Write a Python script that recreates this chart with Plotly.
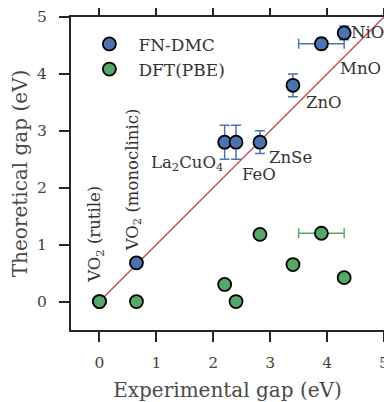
import plotly.graph_objects as go

materials = ["VO2 (rutile)", "VO2 (monoclinic)", "La2CuO4", "FeO", "ZnSe", "ZnO", "MnO", "NiO"]
exp_gap = [0.0, 0.65, 2.2, 2.4, 2.82, 3.4, 3.9, 4.3]
exp_err = [0.0, 0.0, 0.0, 0.0, 0.0, 0.0, 0.4, 0.0]
dmc_gap = [0.0, 0.68, 2.8, 2.8, 2.8, 3.8, 4.53, 4.72]
dmc_err = [0.0, 0.0, 0.3, 0.3, 0.2, 0.2, 0.1, 0.12]
dft_gap = [0.0, 0.0, 0.3, 0.0, 1.18, 0.65, 1.2, 0.42]

labels = ["VO<sub>2</sub> (rutile)", "VO<sub>2</sub> (monoclinic)", "La<sub>2</sub>CuO<sub>4</sub>",
          "FeO", "ZnSe", "ZnO", "MnO", "NiO"]
label_x = [-0.07, 0.6, 2.21, 2.47, 2.95, 3.6, 4.2, 4.38]
label_y = [1.18, 2.14, 2.42, 2.23, 2.54, 3.49, 4.1, 4.72]
label_anchor = ["center", "center", "right", "left", "left", "left", "left", "left"]
label_angle = [-90, -90, 0, 0, 0, 0, 0, 0]

BLUE = "#4c72b0"
GREEN = "#55a868"
RED = "#c44e52"
FONT = "DejaVu Serif"

fig = go.Figure()
fig.add_trace(go.Scatter(x=[0, 5], y=[0, 5], mode="lines", line=dict(color=RED, width=1.4),
                         showlegend=False, hoverinfo="skip"))
fig.add_trace(go.Scatter(
    x=exp_gap, y=dmc_gap, mode="markers", name="FN-DMC",
    marker=dict(color=BLUE, size=13, line=dict(color="black", width=1.8)),
    error_x=dict(type="data", array=exp_err, color=BLUE, thickness=1.5, width=5),
    error_y=dict(type="data", array=dmc_err, color=BLUE, thickness=1.5, width=5)))
fig.add_trace(go.Scatter(
    x=exp_gap, y=dft_gap, mode="markers", name="DFT(PBE)",
    marker=dict(color=GREEN, size=13, line=dict(color="black", width=1.8)),
    error_x=dict(type="data", array=exp_err, color=GREEN, thickness=1.5, width=5)))

for t, x, y, a, ang in zip(labels, label_x, label_y, label_anchor, label_angle):
    fig.add_annotation(x=x, y=y, text=t, showarrow=False, xanchor=a, yanchor="middle",
                       textangle=ang, font=dict(family=FONT, size=16.5, color="#333333"))

axis_common = dict(range=[-0.5, 5], tickvals=[0, 1, 2, 3, 4, 5], ticks="outside", ticklen=10,
                   tickwidth=1.5, tickcolor="#262626", showline=True, linecolor="#262626",
                   linewidth=2, mirror="ticks", showgrid=False, zeroline=False, automargin=False,
                   tickfont=dict(family=FONT, size=15.5, color="#444444"))
fig.update_xaxes(**axis_common, ticklabelstandoff=7,
                 title=dict(text="Experimental gap (eV)", standoff=14,
                            font=dict(family=FONT, size=20, color="#4a4a4a")))
fig.update_yaxes(**axis_common, ticklabelstandoff=9,
                 title=dict(text="Theoretical gap (eV)", standoff=8,
                            font=dict(family=FONT, size=20, color="#4a4a4a")))

# the page body adds an 8px offset, so the figure is sized/margined to compensate
fig.update_layout(
    width=384, height=394, margin=dict(l=63, r=8, t=9, b=72),
    plot_bgcolor="white", paper_bgcolor="white",
    legend=dict(x=0.03, y=0.97, xanchor="left", yanchor="top", bgcolor="rgba(0,0,0,0)",
                itemwidth=48, tracegroupgap=0,
                font=dict(family=FONT, size=17, color="#333333")),
)
fig.write_html("out.html")
